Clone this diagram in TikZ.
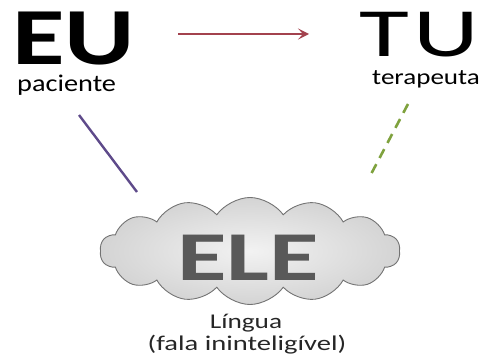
\documentclass[tikz,border=0pt]{standalone}
\usepackage{graphicx}
\usepackage{fontspec}
\setmainfont{Carlito}
\usetikzlibrary{shapes.symbols,arrows.meta}
\definecolor{arrowred}{HTML}{A3424E}
\definecolor{linepurple}{HTML}{5E4A8A}
\definecolor{linegreen}{HTML}{7FA23E}
\tikzset{
  lbl/.style={inner sep=0pt, anchor=base west},
  caption/.style={inner sep=0pt, anchor=base, font=\fontsize{21}{21}\selectfont, text=black!85},
  cloudbox/.style={cloud, cloud puffs=14, cloud puff arc=110, aspect=3,
    minimum width=300pt, minimum height=107pt, draw=black!55, line width=0.9pt,
    inner color=black!5, outer color=black!17},
}
\begin{document}
\begin{tikzpicture}[x=1pt,y=-1pt]
\useasboundingbox (0,0) rectangle (486,358);
\node[lbl, font=\fontsize{81}{81}\selectfont\bfseries] (eu) at (12,65) {\scalebox{1.33}[1]{EU}};
\node[lbl, font=\fontsize{24}{24}\selectfont] (pac) at (17,92) {\scalebox{1.18}[1]{paciente}};
\node[lbl, font=\fontsize{69}{69}\selectfont] (tu) at (359,57) {\scalebox{1.48}[1]{T\kern3pt U}};
\node[lbl, font=\fontsize{22}{22}\selectfont] (ter) at (372,85) {\scalebox{1.23}[1]{terapeuta}};
\coordinate (a1) at (178,34);
\coordinate (a2) at (309,34);
\draw[arrowred, line width=2.4pt, -{Stealth[length=11pt,width=11pt,inset=5pt]}] (a1) -- (a2);
\node[cloudbox] (cl) at (250,251) {};
\node[inner sep=0pt, anchor=base, text=black!65, font=\fontsize{70}{70}\selectfont\bfseries] (ele) at (248,280) {\scalebox{1.45}[1]{ELE}};
\node[caption] (lin) at (246,328) {\scalebox{1.3}[1]{Língua}};
\node[caption] (fal) at (247,350) {\scalebox{1.36}[1]{(fala ininteligível)}};
\coordinate (p1) at (79,115);
\coordinate (p2) at (137,192);
\draw[linepurple, line width=2.4pt] (p1) -- (p2);
\coordinate (g1) at (408,104);
\coordinate (g2) at (369,178);
\draw[linegreen, line width=2.6pt, dash pattern=on 10pt off 7pt] (g1) -- (g2);
\end{tikzpicture}
\end{document}
